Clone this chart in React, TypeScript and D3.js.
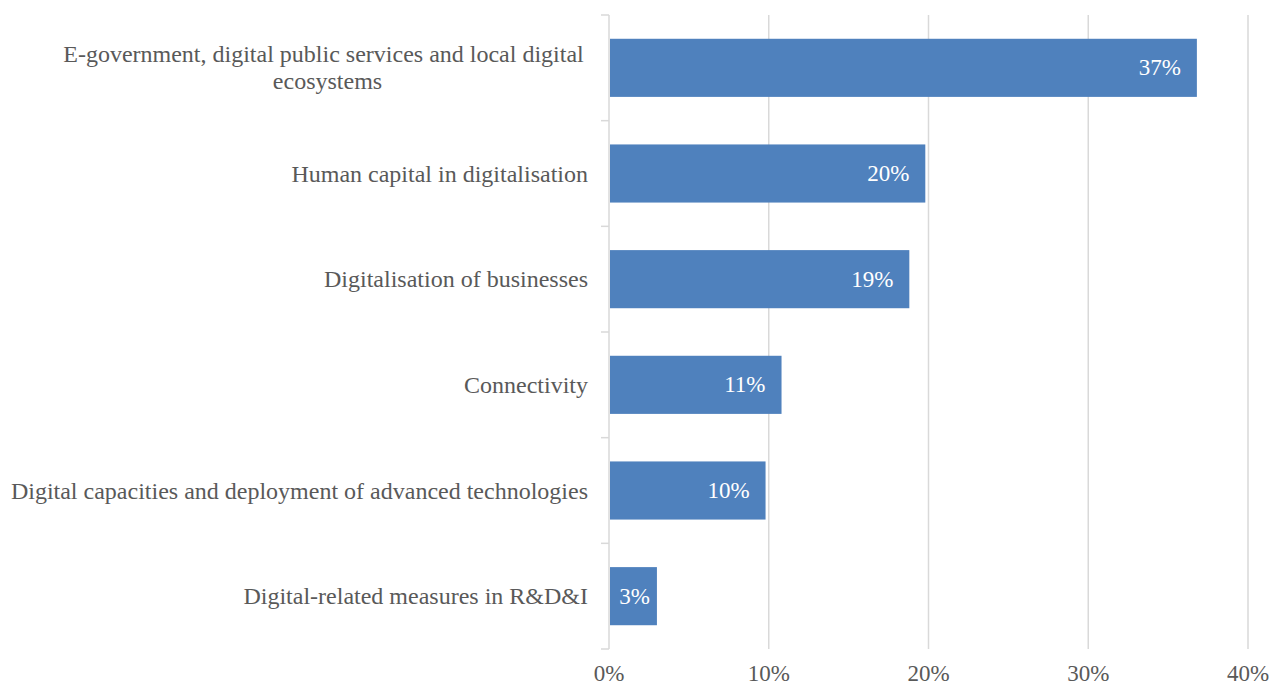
import React from "react";
import * as d3 from "d3";

const categories: string[][] = [
  ["E-government, digital public services and local digital", "ecosystems"],
  ["Human capital in digitalisation"],
  ["Digitalisation of businesses"],
  ["Connectivity"],
  ["Digital capacities and deployment of advanced technologies"],
  ["Digital-related measures in R&D&I"],
];
const values: number[] = [36.8, 19.8, 18.8, 10.8, 9.8, 3.0];
const valueLabels: string[] = ["37%", "20%", "19%", "11%", "10%", "3%"];
const ticks: number[] = [0, 10, 20, 30, 40];

const W = 1269;
const H = 684;
const left = 609;
const right = 1248;
const top = 15;
const bottom = 649;
const font = "Liberation Serif";
const textColor = "#595959";
const gridColor = "#d9d9d9";
const barColor = "#4f81bd";

export default function App() {
  const x = d3.scaleLinear().domain([0, 40]).range([left, right]);
  const idx = categories.map((_, i) => i);
  const y = d3
    .scaleBand<number>()
    .domain(idx)
    .range([top, bottom])
    .paddingInner(0.45)
    .paddingOuter(0.225);
  const step = y.step();

  return (
    <svg
      width={W}
      height={H}
      style={{ position: "absolute", left: 0, top: 0, fontFamily: font }}
    >
      {ticks.slice(1).map((t) => (
        <line
          key={"g" + t}
          x1={x(t)}
          x2={x(t)}
          y1={top}
          y2={bottom}
          stroke={gridColor}
          strokeWidth={1.5}
        />
      ))}
      {idx.map((i) => (
        <rect
          key={"b" + i}
          x={x(0) + 1}
          y={y(i)}
          width={x(values[i]) - x(0) - 1}
          height={y.bandwidth()}
          fill={barColor}
        />
      ))}
      <line x1={left} x2={left} y1={top} y2={bottom} stroke={gridColor} strokeWidth={1.5} />
      {d3.range(categories.length + 1).map((k) => (
        <line
          key={"t" + k}
          x1={left - 8}
          x2={left}
          y1={top + k * step}
          y2={top + k * step}
          stroke={gridColor}
          strokeWidth={1.5}
        />
      ))}
      {idx.map((i) => {
        const cy = (y(i) as number) + y.bandwidth() / 2;
        const lines = categories[i];
        const lh = 27;
        const start = cy - ((lines.length - 1) * lh) / 2;
        return (
          <text
            key={"c" + i}
            fontSize={24}
            fill={textColor}
            textAnchor={lines.length > 1 ? "middle" : "end"}
            dominantBaseline="central"
          >
            {lines.map((l, j) => (
              <tspan
                key={j}
                x={lines.length > 1 ? (j === 0 ? 323.5 : 327.5) : 588}
                y={start + j * lh}
              >
                {l}
              </tspan>
            ))}
          </text>
        );
      })}
      {idx.map((i) => {
        const barW = x(values[i]) - x(0);
        const short = barW < 80;
        return (
          <text
            key={"v" + i}
            x={short ? x(0) + barW / 2 + 1.5 : x(values[i]) - 16}
            y={(y(i) as number) + y.bandwidth() / 2}
            fontSize={23}
            fill="#ffffff"
            textAnchor={short ? "middle" : "end"}
            dominantBaseline="central"
          >
            {valueLabels[i]}
          </text>
        );
      })}
      {ticks.map((t) => (
        <text
          key={"x" + t}
          x={x(t)}
          y={681}
          fontSize={23}
          fill={textColor}
          textAnchor="middle"
        >
          {t + "%"}
        </text>
      ))}
    </svg>
  );
}
